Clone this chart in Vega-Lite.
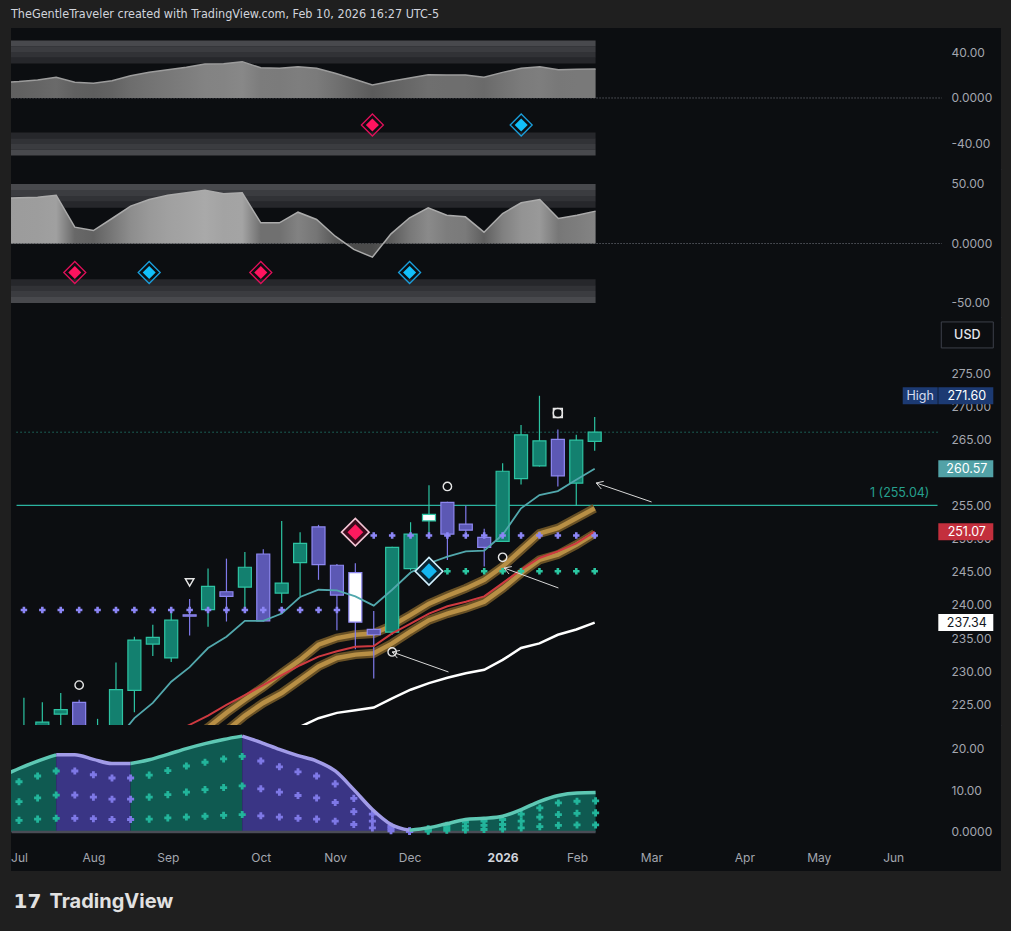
{
"$schema": "https://vega.github.io/schema/vega-lite/v6.json",
"background": "#1f1f1f",
"padding": {"left": 10, "top": 7, "right": 11, "bottom": 25},
"title": {"text": "TheGentleTraveler created with TradingView.com, Feb 10, 2026 16:27 UTC-5", "anchor": "start", "frame": "group", "font": "Liberation Sans Narrow, DejaVu Sans Condensed, sans-serif", "fontSize": 12.5, "fontWeight": "normal", "color": "#d1d4dc", "offset": 8},
"spacing": 0,
"bounds": "flush",
"datasets": {
"bands": [{"lo":30,"hi":35,"b":1},{"lo":35,"hi":40,"b":2},{"lo":40,"hi":45,"b":3},{"lo":45,"hi":50,"b":4},{"lo":-35,"hi":-30,"b":1},{"lo":-40,"hi":-35,"b":2},{"lo":-45,"hi":-40,"b":3},{"lo":-50,"hi":-45,"b":4}],
"osc1": [{"i":-1,"v":13.5},{"i":0,"v":14.3},{"i":1,"v":15.7},{"i":2,"v":18.0},{"i":3,"v":13.7},{"i":4,"v":12.8},{"i":5,"v":15.0},{"i":6,"v":19.4},{"i":7,"v":22.3},{"i":8,"v":24.6},{"i":9,"v":26.7},{"i":10,"v":29.6},{"i":11,"v":29.8},{"i":12,"v":31.6},{"i":13,"v":26.3},{"i":14,"v":25.8},{"i":15,"v":27.2},{"i":16,"v":25.8},{"i":17,"v":21.5},{"i":18,"v":16.5},{"i":19,"v":11.3},{"i":20,"v":14.5},{"i":21,"v":17.4},{"i":22,"v":20.3},{"i":23,"v":20.0},{"i":24,"v":20.0},{"i":25,"v":18.0},{"i":26,"v":22.3},{"i":27,"v":25.8},{"i":28,"v":27.2},{"i":29,"v":24.6},{"i":30,"v":25.0},{"i":31,"v":25.2}],
"osc2": [{"i":-1,"v":38.0},{"i":0,"v":38.4},{"i":1,"v":38.9},{"i":2,"v":40.6},{"i":3,"v":13.7},{"i":4,"v":10.9},{"i":5,"v":21.0},{"i":6,"v":31.4},{"i":7,"v":37.0},{"i":8,"v":40.6},{"i":9,"v":42.6},{"i":10,"v":44.8},{"i":11,"v":41.8},{"i":12,"v":42.6},{"i":13,"v":17.4},{"i":14,"v":17.4},{"i":15,"v":26.3},{"i":16,"v":20.2},{"i":17,"v":6.1},{"i":18,"v":-5.0},{"i":19,"v":-11.5},{"i":20,"v":8.1},{"i":21,"v":21.6},{"i":22,"v":30.0},{"i":23,"v":23.8},{"i":24,"v":22.4},{"i":25,"v":9.5},{"i":26,"v":25.2},{"i":27,"v":34.2},{"i":28,"v":37.0},{"i":29,"v":21.0},{"i":30,"v":23.8},{"i":31,"v":27.2}],
"dia1": [{"i":19,"v":-23.5,"s":"sell"},{"i":27,"v":-23.5,"s":"buy"}],
"dia2": [{"i":3,"v":-24.4,"s":"sell"},{"i":7,"v":-24.4,"s":"buy"},{"i":13,"v":-24.4,"s":"sell"},{"i":21,"v":-24.4,"s":"buy"}],
"ohlc": [{"i":0,"o":220.0,"h":226.0,"l":218.0,"c":221.0},{"i":1,"o":221.0,"h":225.3,"l":219.5,"c":222.3},{"i":2,"o":223.5,"h":226.7,"l":220.5,"c":224.2},{"i":3,"o":225.3,"h":225.7,"l":219.0,"c":221.0},{"i":4,"o":219.5,"h":222.8,"l":218.0,"c":221.0},{"i":5,"o":221.0,"h":231.3,"l":220.0,"c":227.2},{"i":6,"o":227.1,"h":235.2,"l":223.8,"c":234.7},{"i":7,"o":234.1,"h":237.0,"l":232.3,"c":235.1},{"i":8,"o":232.0,"h":239.0,"l":231.4,"c":237.7},{"i":9,"o":238.5,"h":240.9,"l":235.4,"c":238.3},{"i":10,"o":239.3,"h":245.5,"l":236.7,"c":242.8},{"i":11,"o":242.0,"h":247.0,"l":237.5,"c":241.3},{"i":12,"o":242.7,"h":248.0,"l":239.3,"c":245.7},{"i":13,"o":247.7,"h":248.4,"l":237.5,"c":237.6},{"i":14,"o":241.8,"h":252.7,"l":240.3,"c":243.3},{"i":15,"o":246.4,"h":251.0,"l":241.3,"c":249.3},{"i":16,"o":251.8,"h":252.1,"l":243.8,"c":246.1},{"i":17,"o":246.0,"h":246.2,"l":236.2,"c":241.5},{"i":18,"o":244.9,"h":246.3,"l":233.3,"c":237.4,"hl":true},{"i":19,"o":236.3,"h":239.1,"l":228.9,"c":235.5},{"i":20,"o":235.9,"h":248.8,"l":235.5,"c":248.7},{"i":21,"o":245.5,"h":252.5,"l":245.2,"c":250.7},{"i":22,"o":252.7,"h":258.1,"l":250.7,"c":253.7,"hl":true},{"i":23,"o":255.5,"h":255.6,"l":246.8,"c":250.7},{"i":24,"o":252.2,"h":255.0,"l":251.0,"c":251.3},{"i":25,"o":250.2,"h":251.5,"l":245.8,"c":248.7},{"i":26,"o":249.6,"h":261.4,"l":249.5,"c":260.2},{"i":27,"o":259.1,"h":267.2,"l":258.2,"c":265.7},{"i":28,"o":261.0,"h":271.6,"l":260.9,"c":264.8},{"i":29,"o":265.0,"h":266.5,"l":257.9,"c":259.5},{"i":30,"o":258.4,"h":265.7,"l":255.0,"c":264.9},{"i":31,"o":264.7,"h":268.4,"l":263.3,"c":266.1}],
"lines": [{"i":5,"ema":219.5},{"i":6,"ema":222.9},{"i":7,"ema":225.2},{"i":8,"ema":228.4,"red":220.5},{"i":9,"ema":230.6,"red":221.9,"gu":219.5},{"i":10,"ema":233.5,"red":223.3,"gu":221.5,"gl":218.5},{"i":11,"ema":235.2,"red":224.9,"gu":223.7,"gl":221.0},{"i":12,"ema":237.6,"red":226.4,"gu":225.7,"gl":223.3},{"i":13,"ema":237.6,"red":227.9,"gu":227.6,"gl":225.2},{"i":14,"ema":238.7,"red":229.4,"gu":229.7,"gl":226.7,"sma":220.5},{"i":15,"ema":241.2,"red":230.9,"gu":231.7,"gl":228.7,"sma":221.6},{"i":16,"ema":242.3,"red":232.2,"gu":234.0,"gl":230.7,"sma":222.9},{"i":17,"ema":242.2,"red":233.0,"gu":235.0,"gl":232.0,"sma":223.7},{"i":18,"ema":241.3,"red":233.7,"gu":235.5,"gl":232.5,"sma":224.1},{"i":19,"ema":239.9,"red":233.8,"gu":235.7,"gl":232.7,"sma":224.5},{"i":20,"ema":242.3,"red":235.7,"gu":236.9,"gl":234.2,"sma":225.9},{"i":21,"ema":244.9,"red":237.2,"gu":238.5,"gl":236.0,"sma":227.2},{"i":22,"ema":246.3,"red":238.7,"gu":240.2,"gl":237.7,"sma":228.2},{"i":23,"ema":247.3,"red":239.8,"gu":241.4,"gl":238.7,"sma":229.0},{"i":24,"ema":248.1,"red":240.5,"gu":242.5,"gl":239.5,"sma":229.7},{"i":25,"ema":248.2,"red":241.3,"gu":243.8,"gl":240.5,"sma":230.2},{"i":26,"ema":250.6,"red":243.3,"gu":245.8,"gl":242.5,"sma":231.7},{"i":27,"ema":254.6,"red":245.3,"gu":248.3,"gl":244.8,"sma":233.5},{"i":28,"ema":256.6,"red":247.1,"gu":250.8,"gl":246.8,"sma":234.2},{"i":29,"ema":257.2,"red":248.1,"gu":251.6,"gl":247.6,"sma":235.5},{"i":30,"ema":258.9,"red":249.3,"gu":253.1,"gl":249.1,"sma":236.3},{"i":31,"ema":260.57,"red":251.07,"gu":254.6,"gl":250.8,"sma":237.34}],
"lvl": [{"i":0,"p":239.25,"s":"r"},{"i":1,"p":239.25,"s":"r"},{"i":2,"p":239.25,"s":"r"},{"i":3,"p":239.25,"s":"r"},{"i":4,"p":239.25,"s":"r"},{"i":5,"p":239.25,"s":"r"},{"i":6,"p":239.25,"s":"r"},{"i":7,"p":239.25,"s":"r"},{"i":8,"p":239.25,"s":"r"},{"i":9,"p":239.25,"s":"r"},{"i":10,"p":239.25,"s":"r"},{"i":11,"p":239.25,"s":"r"},{"i":12,"p":239.25,"s":"r"},{"i":13,"p":239.25,"s":"r"},{"i":14,"p":239.25,"s":"r"},{"i":15,"p":239.25,"s":"r"},{"i":16,"p":239.25,"s":"r"},{"i":17,"p":239.25,"s":"r"},{"i":19,"p":250.5,"s":"r"},{"i":20,"p":250.5,"s":"r"},{"i":21,"p":250.5,"s":"r"},{"i":22,"p":250.5,"s":"r"},{"i":23,"p":250.5,"s":"r"},{"i":24,"p":250.5,"s":"r"},{"i":25,"p":250.5,"s":"r"},{"i":26,"p":250.5,"s":"r"},{"i":27,"p":250.5,"s":"r"},{"i":28,"p":250.5,"s":"r"},{"i":29,"p":250.5,"s":"r"},{"i":30,"p":250.5,"s":"r"},{"i":31,"p":250.5,"s":"r"},{"i":23,"p":245.1,"s":"s"},{"i":24,"p":245.1,"s":"s"},{"i":25,"p":245.1,"s":"s"},{"i":26,"p":245.1,"s":"s"},{"i":27,"p":245.1,"s":"s"},{"i":28,"p":245.1,"s":"s"},{"i":29,"p":245.1,"s":"s"},{"i":30,"p":245.1,"s":"s"},{"i":31,"p":245.1,"s":"s"}],
"marks": [{"i":3,"p":227.9,"m":"circle"},{"i":23,"p":257.9,"m":"circle"},{"i":26,"p":247.2,"m":"circle"},{"i":20,"p":232.9,"m":"circle"},{"i":9,"p":243.4,"m":"tri"},{"i":29,"p":269.0,"m":"sq"},{"i":29,"p":269.0,"m":"dot"}],
"diam": [{"i":18,"p":251.0,"s":"sell"},{"i":22,"p":245.1,"s":"buy"}],
"arrows": [{"x":23.06,"y":229.88,"x2":20.0,"y2":232.9},{"x":20.0,"y":232.9,"x2":20.28,"y2":231.98},{"x":20.0,"y":232.9,"x2":20.42,"y2":233.13},{"x":29.03,"y":242.57,"x2":26.08,"y2":245.59},{"x":26.08,"y":245.59,"x2":26.35,"y2":244.67},{"x":26.08,"y":245.59,"x2":26.5,"y2":245.8},{"x":34.09,"y":255.56,"x2":31.08,"y2":258.43},{"x":31.08,"y":258.43,"x2":31.36,"y2":257.52},{"x":31.08,"y":258.43,"x2":31.49,"y2":258.67}],
"plabels": [{"p":271.6,"kind":"high","t":"271.60"},{"p":260.57,"kind":"ema","t":"260.57"},{"p":251.07,"kind":"red","t":"251.07"},{"p":237.34,"kind":"sma","t":"237.34"}],
"osc": [{"i":-1,"v":13.3,"seg":"A","trend":"up"},{"i":0,"v":15.3,"seg":"A","trend":"up"},{"i":1,"v":17.1,"seg":"A","trend":"up"},{"i":2,"v":18.6,"seg":"A","trend":"up"},
{"i":2,"v":18.6,"seg":"B","trend":"down"},{"i":3,"v":18.6,"seg":"B","trend":"down"},{"i":4,"v":17.5,"seg":"B","trend":"down"},{"i":5,"v":16.5,"seg":"B","trend":"down"},{"i":6,"v":16.5,"seg":"B","trend":"down"},
{"i":6,"v":16.5,"seg":"C","trend":"up"},{"i":7,"v":17.4,"seg":"C","trend":"up"},{"i":8,"v":18.7,"seg":"C","trend":"up"},{"i":9,"v":20.1,"seg":"C","trend":"up"},{"i":10,"v":21.3,"seg":"C","trend":"up"},{"i":11,"v":22.3,"seg":"C","trend":"up"},{"i":12,"v":23.1,"seg":"C","trend":"up"},
{"i":12,"v":23.1,"seg":"D","trend":"down"},{"i":13,"v":21.6,"seg":"D","trend":"down"},{"i":14,"v":19.9,"seg":"D","trend":"down"},{"i":15,"v":18.4,"seg":"D","trend":"down"},{"i":16,"v":17.1,"seg":"D","trend":"down"},{"i":17,"v":14.7,"seg":"D","trend":"down"},{"i":18,"v":10.2,"seg":"D","trend":"down"},{"i":19,"v":5.4,"seg":"D","trend":"down"},{"i":20,"v":1.8,"seg":"D","trend":"down"},{"i":21,"v":0.4,"seg":"D","trend":"down"},
{"i":21,"v":0.4,"seg":"E","trend":"up"},{"i":22,"v":1.0,"seg":"E","trend":"up"},{"i":23,"v":2.0,"seg":"E","trend":"up"},{"i":24,"v":3.0,"seg":"E","trend":"up"},{"i":25,"v":3.3,"seg":"E","trend":"up"},{"i":26,"v":3.8,"seg":"E","trend":"up"},{"i":27,"v":5.4,"seg":"E","trend":"up"},{"i":28,"v":7.4,"seg":"E","trend":"up"},{"i":29,"v":8.8,"seg":"E","trend":"up"},{"i":30,"v":9.4,"seg":"E","trend":"up"},{"i":31,"v":9.5,"seg":"E","trend":"up"}],
"oscx": [{"i":0,"a":12.1,"b":7.3,"c":2.8,"trend":"up"},{"i":1,"a":13.5,"b":8.2,"c":3.1,"trend":"up"},{"i":2,"a":14.7,"b":8.9,"c":3.3,"trend":"up"},{"i":3,"a":14.7,"b":8.9,"c":3.3,"trend":"down"},{"i":4,"a":13.8,"b":8.4,"c":3.2,"trend":"down"},{"i":5,"a":13.0,"b":7.9,"c":3.0,"trend":"down"},{"i":6,"a":13.0,"b":7.9,"c":3.0,"trend":"down"},{"i":7,"a":13.7,"b":8.4,"c":3.1,"trend":"up"},{"i":8,"a":14.8,"b":9.0,"c":3.4,"trend":"up"},{"i":9,"a":15.9,"b":9.6,"c":3.6,"trend":"up"},{"i":10,"a":16.8,"b":10.2,"c":3.8,"trend":"up"},{"i":11,"a":17.6,"b":10.7,"c":4.0,"trend":"up"},{"i":12,"a":18.2,"b":11.1,"c":4.2,"trend":"up"},{"i":13,"a":17.1,"b":10.4,"c":3.9,"trend":"down"},{"i":14,"a":15.7,"b":9.6,"c":3.6,"trend":"down"},{"i":15,"a":14.5,"b":8.8,"c":3.3,"trend":"down"},{"i":16,"a":13.5,"b":8.2,"c":3.1,"trend":"down"},{"i":17,"a":11.6,"b":7.1,"c":2.6,"trend":"down"},{"i":18,"a":8.1,"b":4.9,"c":1.8,"trend":"down"},{"i":19,"a":4.3,"b":2.6,"c":1.0,"trend":"down"},{"i":20,"a":1.4,"b":0.9,"c":0.3,"trend":"down"},{"i":21,"a":0.3,"b":0.2,"c":0.1,"trend":"down"},{"i":22,"a":0.8,"b":0.5,"c":0.2,"trend":"up"},{"i":23,"a":1.6,"b":1.0,"c":0.4,"trend":"up"},{"i":24,"a":2.4,"b":1.4,"c":0.5,"trend":"up"},{"i":25,"a":2.6,"b":1.6,"c":0.6,"trend":"up"},{"i":26,"a":3.0,"b":1.8,"c":0.7,"trend":"up"},{"i":27,"a":4.3,"b":2.6,"c":1.0,"trend":"up"},{"i":28,"a":5.8,"b":3.6,"c":1.3,"trend":"up"},{"i":29,"a":7.0,"b":4.2,"c":1.6,"trend":"up"},{"i":30,"a":7.4,"b":4.5,"c":1.7,"trend":"up"},{"i":31,"a":7.5,"b":4.6,"c":1.7,"trend":"up"}]
},
"vconcat": [
{
"width": 990, "height": 141,
"layer": [
{"data": {"name": "bands"}, "mark": {"type": "rect", "clip": true},
 "encoding": {
  "x": {"datum": -1, "type": "quantitative", "scale": {"domain": [-0.43, 52.796], "nice": false, "zero": false}, "axis": {"title": null, "labels": false, "domain": true, "domainColor": "#2a2d35", "domainWidth": 1}},
  "x2": {"datum": 31},
  "y": {"field": "lo", "type": "quantitative", "scale": {"domain": [-61.74, 60.87], "nice": false, "zero": false}, "axis": {"title": null, "orient": "right", "values": [40, 0, -40], "labelExpr": "datum.value == 0 ? '0.0000' : (datum.value < 0 ? '-' : '') + format(abs(datum.value), '.2f')", "labelAlign": "left", "labelPadding": -50, "labelBaseline": "middle"}},
  "y2": {"field": "hi"},
  "color": {"field": "b", "type": "ordinal", "scale": {"domain": [1, 2, 3, 4], "range": ["#26272b", "#313236", "#3b3c40", "#48494d"]}, "legend": null}}},
{"data": {"values": [{}]}, "mark": {"type": "rule", "clip": true, "color": "#7a7d86", "strokeDash": [1, 2], "strokeWidth": 1},
 "encoding": {"x": {"datum": -0.4, "type": "quantitative"}, "x2": {"datum": 49.62}, "y": {"datum": 0, "type": "quantitative"}}},
{"data": {"name": "osc1"}, "mark": {"type": "area", "clip": true, "fill": {"gradient": "linear", "x1": 0, "y1": 0, "x2": 1, "y2": 0, "stops": [{"offset": 0, "color": "#606060"}, {"offset": 0.0313, "color": "#616161"}, {"offset": 0.0625, "color": "#656565"}, {"offset": 0.0938, "color": "#6a6a6a"}, {"offset": 0.125, "color": "#606060"}, {"offset": 0.1563, "color": "#5e5e5e"}, {"offset": 0.1875, "color": "#636363"}, {"offset": 0.2188, "color": "#6d6d6d"}, {"offset": 0.25, "color": "#737373"}, {"offset": 0.2813, "color": "#787878"}, {"offset": 0.3125, "color": "#7d7d7d"}, {"offset": 0.3438, "color": "#838383"}, {"offset": 0.375, "color": "#848484"}, {"offset": 0.4063, "color": "#888888"}, {"offset": 0.4375, "color": "#7c7c7c"}, {"offset": 0.4688, "color": "#7b7b7b"}, {"offset": 0.5, "color": "#7e7e7e"}, {"offset": 0.5313, "color": "#7b7b7b"}, {"offset": 0.5625, "color": "#717171"}, {"offset": 0.5938, "color": "#666666"}, {"offset": 0.625, "color": "#5b5b5b"}, {"offset": 0.6563, "color": "#626262"}, {"offset": 0.6875, "color": "#686868"}, {"offset": 0.7188, "color": "#6f6f6f"}, {"offset": 0.75, "color": "#6e6e6e"}, {"offset": 0.7813, "color": "#6e6e6e"}, {"offset": 0.8125, "color": "#6a6a6a"}, {"offset": 0.8438, "color": "#737373"}, {"offset": 0.875, "color": "#7b7b7b"}, {"offset": 0.9063, "color": "#7e7e7e"}, {"offset": 0.9375, "color": "#787878"}, {"offset": 0.9688, "color": "#797979"}, {"offset": 1, "color": "#797979"}]}},
 "encoding": {"x": {"field": "i", "type": "quantitative"}, "y": {"field": "v", "type": "quantitative"}, "y2": {"datum": 0}}},
{"data": {"name": "osc1"}, "mark": {"type": "line", "clip": true, "color": "#9c9c9c", "strokeWidth": 1.5},
 "encoding": {"x": {"field": "i", "type": "quantitative"}, "y": {"field": "v", "type": "quantitative"}}},
{"data": {"name": "dia1"}, "mark": {"type": "point", "shape": "diamond", "filled": false, "size": 484, "strokeWidth": 1.3, "opacity": 1},
 "encoding": {"x": {"field": "i", "type": "quantitative"}, "y": {"field": "v", "type": "quantitative"}, "stroke": {"condition": {"test": "datum.s == 'sell'", "value": "#e0105a"}, "value": "#1a9fdc"}}},
{"data": {"name": "dia1"}, "mark": {"type": "point", "shape": "diamond", "filled": true, "size": 170, "opacity": 1},
 "encoding": {"x": {"field": "i", "type": "quantitative"}, "y": {"field": "v", "type": "quantitative"}, "fill": {"condition": {"test": "datum.s == 'sell'", "value": "#ff145f"}, "value": "#12bff9"}}}
]
},
{
"width": 990, "height": 148,
"layer": [
{"data": {"name": "bands"}, "mark": {"type": "rect", "clip": true},
 "encoding": {
  "x": {"datum": -1, "type": "quantitative", "scale": {"domain": [-0.43, 52.796], "nice": false, "zero": false}, "axis": {"title": null, "labels": false, "domain": true, "domainColor": "#2a2d35", "domainWidth": 1}},
  "x2": {"datum": 31},
  "y": {"field": "lo", "type": "quantitative", "scale": {"domain": [-61.77, 62.6], "nice": false, "zero": false}, "axis": {"title": null, "orient": "right", "values": [50, 0, -50], "labelExpr": "datum.value == 0 ? '0.0000' : (datum.value < 0 ? '-' : '') + format(abs(datum.value), '.2f')", "labelAlign": "left", "labelPadding": -50, "labelBaseline": "middle"}},
  "y2": {"field": "hi"},
  "color": {"field": "b", "type": "ordinal", "scale": {"domain": [1, 2, 3, 4], "range": ["#26272b", "#313236", "#3b3c40", "#48494d"]}, "legend": null}}},
{"data": {"values": [{}]}, "mark": {"type": "rule", "clip": true, "color": "#7a7d86", "strokeDash": [1, 2], "strokeWidth": 1},
 "encoding": {"x": {"datum": -0.4, "type": "quantitative"}, "x2": {"datum": 49.62}, "y": {"datum": 0, "type": "quantitative"}}},
{"data": {"name": "osc2"}, "mark": {"type": "area", "clip": true, "fill": {"gradient": "linear", "x1": 0, "y1": 0, "x2": 1, "y2": 0, "stops": [{"offset": 0, "color": "#9b9b9b"}, {"offset": 0.0313, "color": "#9c9c9c"}, {"offset": 0.0625, "color": "#9d9d9d"}, {"offset": 0.0938, "color": "#a0a0a0"}, {"offset": 0.125, "color": "#686868"}, {"offset": 0.1563, "color": "#626262"}, {"offset": 0.1875, "color": "#777777"}, {"offset": 0.2188, "color": "#8d8d8d"}, {"offset": 0.25, "color": "#999999"}, {"offset": 0.2813, "color": "#a0a0a0"}, {"offset": 0.3125, "color": "#a4a4a4"}, {"offset": 0.3438, "color": "#a9a9a9"}, {"offset": 0.375, "color": "#a3a3a3"}, {"offset": 0.4063, "color": "#a4a4a4"}, {"offset": 0.4375, "color": "#707070"}, {"offset": 0.4688, "color": "#707070"}, {"offset": 0.5, "color": "#828282"}, {"offset": 0.5313, "color": "#757575"}, {"offset": 0.5625, "color": "#585858"}, {"offset": 0.5938, "color": "#4b4b4b"}, {"offset": 0.625, "color": "#4b4b4b"}, {"offset": 0.6563, "color": "#5c5c5c"}, {"offset": 0.6875, "color": "#787878"}, {"offset": 0.7188, "color": "#8a8a8a"}, {"offset": 0.75, "color": "#7d7d7d"}, {"offset": 0.7813, "color": "#7a7a7a"}, {"offset": 0.8125, "color": "#5f5f5f"}, {"offset": 0.8438, "color": "#808080"}, {"offset": 0.875, "color": "#939393"}, {"offset": 0.9063, "color": "#999999"}, {"offset": 0.9375, "color": "#777777"}, {"offset": 0.9688, "color": "#7d7d7d"}, {"offset": 1, "color": "#848484"}]}},
 "encoding": {"x": {"field": "i", "type": "quantitative"}, "y": {"field": "v", "type": "quantitative"}, "y2": {"datum": 0}}},
{"data": {"name": "osc2"}, "mark": {"type": "line", "clip": true, "color": "#ababab", "strokeWidth": 1.5},
 "encoding": {"x": {"field": "i", "type": "quantitative"}, "y": {"field": "v", "type": "quantitative"}}},
{"data": {"name": "dia2"}, "mark": {"type": "point", "shape": "diamond", "filled": false, "size": 484, "strokeWidth": 1.3, "opacity": 1},
 "encoding": {"x": {"field": "i", "type": "quantitative"}, "y": {"field": "v", "type": "quantitative"}, "stroke": {"condition": {"test": "datum.s == 'sell'", "value": "#e0105a"}, "value": "#1a9fdc"}}},
{"data": {"name": "dia2"}, "mark": {"type": "point", "shape": "diamond", "filled": true, "size": 170, "opacity": 1},
 "encoding": {"x": {"field": "i", "type": "quantitative"}, "y": {"field": "v", "type": "quantitative"}, "fill": {"condition": {"test": "datum.s == 'sell'", "value": "#ff145f"}, "value": "#12bff9"}}}
]
},
{
"width": 990, "height": 408,
"layer": [
{"data": {"values": [{"p": 266.1}]}, "mark": {"type": "rule", "clip": true, "color": "#2aa590", "strokeDash": [1, 3], "strokeWidth": 1},
 "encoding": {
  "x": {"datum": -0.4, "type": "quantitative", "scale": {"domain": [-0.43, 52.796], "nice": false, "zero": false}, "axis": {"title": null, "labels": false, "domain": true, "domainColor": "#2a2d35", "domainWidth": 1}},
  "x2": {"datum": 49.62},
  "y": {"field": "p", "type": "quantitative", "scale": {"domain": [221.87, 283.5], "nice": false, "zero": false}, "axis": {"title": null, "orient": "right", "values": [225, 230, 235, 240, 245, 250, 255, 265, 270, 275], "format": ".2f", "labelAlign": "left", "labelPadding": -50, "labelBaseline": "middle"}}}},
{"data": {"values": [{"p": 255.04, "label": "1 (255.04)"}]},
 "layer": [
  {"mark": {"type": "rule", "clip": true, "color": "#2bb3a0", "strokeWidth": 1.2}, "encoding": {"x": {"datum": -0.4, "type": "quantitative"}, "x2": {"datum": 49.62}, "y": {"field": "p", "type": "quantitative"}}},
  {"mark": {"type": "text", "color": "#26a08e", "align": "right", "baseline": "middle", "dy": -12, "fontSize": 12.5, "font": "Inter"}, "encoding": {"x": {"datum": 49.18, "type": "quantitative"}, "y": {"field": "p", "type": "quantitative"}, "text": {"field": "label"}}}
 ]},
{"data": {"name": "lines"}, "transform": [{"fold": ["gu", "gl"], "as": ["band", "val"]}],
 "layer": [
  {"mark": {"type": "line", "clip": true, "color": "#6e5427", "strokeWidth": 9, "opacity": 0.95}, "encoding": {"x": {"field": "i", "type": "quantitative"}, "y": {"field": "val", "type": "quantitative"}, "detail": {"field": "band"}}},
  {"mark": {"type": "line", "clip": true, "color": "#b88f45", "strokeWidth": 4.5}, "encoding": {"x": {"field": "i", "type": "quantitative"}, "y": {"field": "val", "type": "quantitative"}, "detail": {"field": "band"}}}
 ]},
{"data": {"name": "ohlc"},
 "layer": [
  {"mark": {"type": "rule", "clip": true, "strokeWidth": 1.2},
   "encoding": {"x": {"field": "i", "type": "quantitative"}, "y": {"field": "l", "type": "quantitative"}, "y2": {"field": "h"},
    "color": {"condition": {"test": "datum.c >= datum.o", "value": "#2cc4a2"}, "value": "#7f79ea"}}},
  {"mark": {"type": "bar", "clip": true, "width": 13, "strokeWidth": 1.2},
   "encoding": {"x": {"field": "i", "type": "quantitative"}, "y": {"field": "o", "type": "quantitative"}, "y2": {"field": "c"},
    "fill": {"condition": [{"test": "datum.hl", "value": "#ffffff"}, {"test": "datum.c >= datum.o", "value": "#13806f"}], "value": "#5c58b4"},
    "stroke": {"condition": {"test": "datum.c >= datum.o", "value": "#2ec4a3"}, "value": "#8d87f0"}}}
 ]},
{"data": {"name": "lines"},
 "layer": [
  {"mark": {"type": "line", "clip": true, "color": "#ffffff", "strokeWidth": 2.5}, "encoding": {"x": {"field": "i", "type": "quantitative"}, "y": {"field": "sma", "type": "quantitative"}}},
  {"mark": {"type": "line", "clip": true, "color": "#cf3a40", "strokeWidth": 2}, "encoding": {"x": {"field": "i", "type": "quantitative"}, "y": {"field": "red", "type": "quantitative"}}},
  {"mark": {"type": "line", "clip": true, "color": "#52a8ad", "strokeWidth": 1.8}, "encoding": {"x": {"field": "i", "type": "quantitative"}, "y": {"field": "ema", "type": "quantitative"}}}
 ]},
{"data": {"name": "lvl"}, "mark": {"type": "point", "shape": "cross", "filled": true, "size": 42, "opacity": 1},
 "encoding": {"x": {"field": "i", "type": "quantitative"}, "y": {"field": "p", "type": "quantitative"},
  "color": {"condition": {"test": "datum.s == 'r'", "value": "#8c86f6"}, "value": "#2bc7a2"}}},
{"data": {"name": "marks"}, "mark": {"type": "point", "filled": false, "strokeWidth": 1.4, "color": "#e6e6e6", "opacity": 1},
 "encoding": {"x": {"field": "i", "type": "quantitative"}, "y": {"field": "p", "type": "quantitative"},
  "shape": {"field": "m", "type": "nominal", "scale": {"domain": ["circle", "tri", "sq", "dot"], "range": ["circle", "triangle-down", "square", "circle"]}, "legend": null},
  "size": {"field": "m", "type": "ordinal", "scale": {"domain": ["circle", "tri", "sq", "dot"], "range": [70, 85, 140, 40]}, "legend": null}}},
{"data": {"name": "diam"},
 "layer": [
  {"mark": {"type": "point", "shape": "diamond", "filled": true, "size": 760, "strokeWidth": 1.6, "opacity": 1},
   "encoding": {"x": {"field": "i", "type": "quantitative"}, "y": {"field": "p", "type": "quantitative"},
    "fill": {"condition": {"test": "datum.s == 'sell'", "value": "#3a0b1c"}, "value": "#0a2533"},
    "stroke": {"condition": {"test": "datum.s == 'sell'", "value": "#f3c4d4"}, "value": "#d2f1ff"}}},
  {"mark": {"type": "point", "shape": "diamond", "filled": true, "size": 250, "opacity": 1},
   "encoding": {"x": {"field": "i", "type": "quantitative"}, "y": {"field": "p", "type": "quantitative"},
    "fill": {"condition": {"test": "datum.s == 'sell'", "value": "#ff1a5f"}, "value": "#14b6f0"}}}
 ]},
{"data": {"name": "arrows"}, "mark": {"type": "rule", "clip": true, "color": "#d8d8d8", "strokeWidth": 1},
 "encoding": {"x": {"field": "x", "type": "quantitative"}, "y": {"field": "y", "type": "quantitative"}, "x2": {"field": "x2"}, "y2": {"field": "y2"}}},
{"data": {"name": "plabels"},
 "layer": [
  {"mark": {"type": "point", "shape": "M-1,-0.309H1V0.309H-1Z", "filled": true, "size": 3025, "opacity": 1, "strokeWidth": 0},
   "encoding": {"x": {"datum": 51.156, "type": "quantitative"}, "y": {"field": "p", "type": "quantitative"},
    "fill": {"condition": [{"test": "datum.kind == 'high'", "value": "#1c3a73"}, {"test": "datum.kind == 'ema'", "value": "#52a2a7"}, {"test": "datum.kind == 'red'", "value": "#c32f3d"}], "value": "#ffffff"}}},
  {"mark": {"type": "text", "align": "center", "baseline": "middle", "fontSize": 12.5, "font": "Inter"},
   "encoding": {"x": {"datum": 51.21, "type": "quantitative"}, "y": {"field": "p", "type": "quantitative"}, "text": {"field": "t"},
    "color": {"condition": {"test": "datum.kind == 'sma'", "value": "#131722"}, "value": "#ffffff"}}},
  {"transform": [{"filter": "datum.kind == 'high'"}], "mark": {"type": "point", "shape": "M-1,-0.486H1V0.486H-1Z", "filled": true, "size": 1225, "opacity": 1, "color": "#1c3a73", "strokeWidth": 0},
   "encoding": {"x": {"datum": 48.68, "type": "quantitative"}, "y": {"field": "p", "type": "quantitative"}}},
  {"transform": [{"filter": "datum.kind == 'high'"}], "mark": {"type": "text", "align": "center", "baseline": "middle", "fontSize": 12.5, "font": "Inter", "color": "#d6dcef"},
   "encoding": {"x": {"datum": 48.68, "type": "quantitative"}, "y": {"field": "p", "type": "quantitative"}, "text": {"value": "High"}}}
 ]},
{"data": {"values": [{"cur": "USD", "p": 280.79}]},
 "layer": [
  {"mark": {"type": "point", "shape": "M-1,-0.5H1V0.5H-1Z", "filled": true, "size": 2704, "opacity": 1, "fill": "#0c0e11", "stroke": "#3d404a", "strokeWidth": 1},
   "encoding": {"x": {"datum": 51.237, "type": "quantitative"}, "y": {"field": "p", "type": "quantitative"}}},
  {"mark": {"type": "text", "align": "center", "baseline": "middle", "fontSize": 12.5, "font": "Inter", "fontWeight": 500, "color": "#e6e8ee"},
   "encoding": {"x": {"datum": 51.237, "type": "quantitative"}, "y": {"field": "p", "type": "quantitative"}, "text": {"field": "cur"}}}
 ]}
]
},
{
"width": 990, "height": 146,
"layer": [
{"data": {"name": "osc"}, "mark": {"type": "area", "interpolate": "monotone", "clip": true, "opacity": 1},
 "encoding": {
  "x": {"field": "i", "type": "quantitative", "scale": {"domain": [-0.43, 52.796], "nice": false, "zero": false},
   "axis": {"title": "TradingView", "values": [0, 4, 8, 13, 17, 21, 26, 30, 34, 39, 43, 47], "labelExpr": "['Jul','Aug','Sep','Oct','Nov','Dec','2026','Feb','Mar','Apr','May','Jun'][indexof([0,4,8,13,17,21,26,30,34,39,43,47], datum.value)]", "labelPadding": -14, "labelBaseline": "middle", "labelFontWeight": {"condition": {"test": "datum.value === 26", "value": "bold"}, "value": "normal"}, "labelColor": {"condition": {"test": "datum.value === 26", "value": "#d1d4dc"}, "value": "#a3a6af"}, "titleFont": "Inter", "titleFontSize": 20, "titleFontWeight": "bold", "titleColor": "#e1e1e1", "titleX": 38, "titleY": 30, "titleAlign": "left", "titleAnchor": "start", "titleBaseline": "middle", "domain": false}},
  "y": {"field": "v", "type": "quantitative", "scale": {"domain": [-9.4, 25.78], "nice": false, "zero": false},
   "axis": {"orient": "right", "values": [20, 10, 0], "labelExpr": "datum.value == 0 ? '0.0000' : format(datum.value, '.2f')", "labelAlign": "left", "labelPadding": -50, "labelBaseline": "middle", "title": "17", "titleFont": "DejaVu Sans", "titleFontSize": 20, "titleFontWeight": "bold", "titleColor": "#e1e1e1", "titleAngle": 0, "titleX": -988, "titleY": 176, "titleAlign": "left", "titleBaseline": "middle"}},
  "y2": {"datum": 0},
  "detail": {"field": "seg"},
  "fill": {"condition": {"test": "datum.trend == 'up'", "value": "#0f5a51"}, "value": "#3a3585"}}},
{"data": {"values": [{}]}, "mark": {"type": "rule", "clip": true, "color": "#4a4c56", "strokeWidth": 2.5},
 "encoding": {"x": {"datum": -0.4, "type": "quantitative"}, "x2": {"datum": 31}, "y": {"datum": 0, "type": "quantitative"}}},
{"data": {"name": "oscx"}, "transform": [{"fold": ["a", "b", "c"], "as": ["k", "pos"]}],
 "mark": {"type": "point", "shape": "cross", "filled": true, "size": 50, "opacity": 1, "clip": true},
 "encoding": {"x": {"field": "i", "type": "quantitative"}, "y": {"field": "pos", "type": "quantitative"},
  "color": {"condition": {"test": "datum.trend == 'up'", "value": "#22b59b"}, "value": "#7e78e6"}}},
{"data": {"name": "osc"}, "mark": {"type": "line", "interpolate": "monotone", "clip": true, "strokeWidth": 3.5},
 "encoding": {"x": {"field": "i", "type": "quantitative"}, "y": {"field": "v", "type": "quantitative"}, "detail": {"field": "seg"},
  "stroke": {"condition": {"test": "datum.trend == 'up'", "value": "#5ec8b4"}, "value": "#a29ce8"}}}
]
}
],
"config": {
 "view": {"stroke": null, "fill": "#0c0e11"},
 "font": "Inter",
 "axis": {"labelFont": "Inter", "labelFontSize": 12, "labelColor": "#a3a6af", "grid": false, "ticks": false, "tickSize": 0, "domain": false, "labelOverlap": false, "labelFlush": false}
}
}
